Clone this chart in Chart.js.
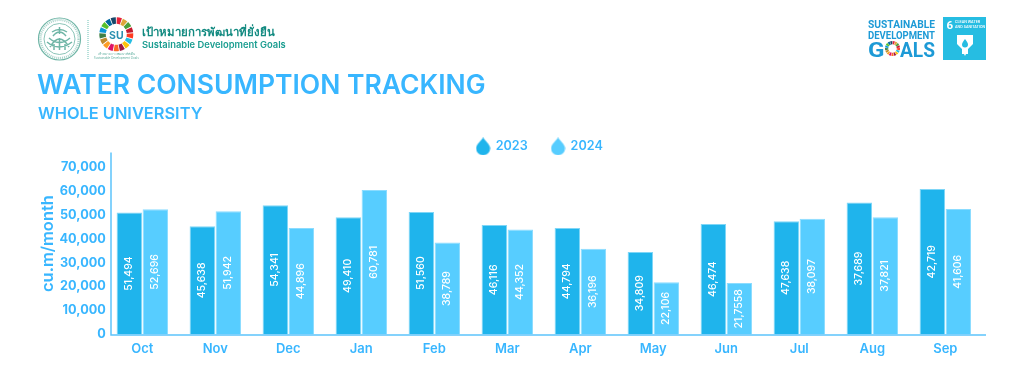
<!DOCTYPE html>
<html>
<head>
<meta charset="utf-8">
<title>Water consumption tracking</title>
<script src="https://cdn.jsdelivr.net/npm/chart.js@4"></script>
<style>
  html, body { margin: 0; padding: 0; background: #fff; overflow: hidden; }
  #page { position: relative; width: 1024px; height: 379px; font-family: Inter, sans-serif; }
  #chartBox { position: absolute; left: 0; top: 0; width: 1024px; height: 379px; }
  .txt { position: absolute; white-space: nowrap; line-height: 1; }
  #title { left: 37px; top: 71px; font-size: 26.5px; font-weight: 600; color: #38b6ff; }
  #subtitle { left: 38px; top: 105px; font-size: 16.4px; font-weight: 600; color: #38b6ff; }
  #thaiName { left: 142px; top: 26px; font-size: 11.4px; font-weight: 600; color: #128a80; font-family: "Noto Sans", sans-serif; }
  #engName { left: 142px; top: 40px; font-size: 9.4px; font-weight: 600; color: #1a9d90; }
  svg { position: absolute; left: 0; top: 0; }
</style>
</head>
<body>
<div id="page">
  <div id="chartBox"><canvas id="waterChart" width="1024" height="379"></canvas></div>
  <svg id="logos" width="1024" height="70" viewBox="0 0 1024 70">
    <g fill="none" stroke="#6fb5a6">
      <circle cx="59.5" cy="39" r="21" stroke-width="1.2"/>
      <circle cx="59.5" cy="39" r="19" stroke-width="2.2" stroke-dasharray="1 1" opacity="0.6"/>
      <circle cx="59.5" cy="39" r="15.5" stroke-width="0.8"/>
      <path d="M59.5 27 v7 M52 32 q7.5 -5 15 0 M49 38 q10.5 9 21 0 M50 47 q9.5 -16 19 0 M53 36 q6.5 -8 13 0 M47 42 q12 10 25 0 M54 44 v6 M65 44 v6 M59.5 38 v12" stroke-width="1.5"/>
    </g>
    <line x1="88" y1="20" x2="88" y2="60" stroke="#6fc2b5" stroke-width="1" stroke-dasharray="1 1"/>
    <g id="suWheel"></g>
    <text x="116.3" y="38.5" text-anchor="middle" font-family="Inter" font-weight="700" font-size="10.5" fill="#2a8fb0">SU</text>
    <text x="116.3" y="55" text-anchor="middle" font-family="Noto Sans" font-size="3" fill="#5fae9f">เป้าหมายการพัฒนาที่ยั่งยืน</text>
    <text x="116.3" y="59" text-anchor="middle" font-family="Inter" font-size="3" fill="#5fae9f">Sustainable Development Goals</text>

    <g font-family="Roboto" font-weight="700" fill="#1d9ad6">
      <text x="868" y="28" font-size="10.6" textLength="67" lengthAdjust="spacingAndGlyphs">SUSTAINABLE</text>
      <text x="868" y="38.5" font-size="10.6" textLength="67" lengthAdjust="spacingAndGlyphs">DEVELOPMENT</text>
      <text x="868" y="56.5" font-size="21" textLength="16.5" lengthAdjust="spacingAndGlyphs">G</text>
      <text x="900" y="56.5" font-size="21" textLength="35" lengthAdjust="spacingAndGlyphs">ALS</text>
    </g>
    <g id="goalsWheel"></g>
    <rect x="943" y="17" width="43" height="43" fill="#26bde2"/>
    <g fill="#fff">
      <text x="946.5" y="29" font-family="Roboto" font-weight="700" font-size="11.5">6</text>
      <text x="955" y="22.5" font-family="Roboto" font-weight="500" font-size="3.8">CLEAN WATER</text>
      <text x="955" y="27.5" font-family="Roboto" font-weight="500" font-size="3.8">AND SANITATION</text>
      <path d="M957 35 h16 v9 l-5 5 v5 h-2 l-1 2 -1 -2 h-2 v-5 l-5 -5 z"/>
      <path d="M965 39 q3 3.5 3 5.5 a3 3 0 0 1 -6 0 q0 -2 3 -5.5 z" fill="#26bde2"/>
    </g>
  </svg>
  <div id="title" class="txt">WATER CONSUMPTION TRACKING</div>
  <div id="subtitle" class="txt">WHOLE UNIVERSITY</div>
  <div id="thaiName" class="txt">เป้าหมายการพัฒนาที่ยั่งยืน</div>
  <div id="engName" class="txt">Sustainable Development Goals</div>
</div>

<script>
  var months = ['Oct', 'Nov', 'Dec', 'Jan', 'Feb', 'Mar', 'Apr', 'May', 'Jun', 'Jul', 'Aug', 'Sep'];
  var yearNames = ['2023', '2024'];
  var yTicks = [0, 10000, 20000, 30000, 40000, 50000, 60000, 70000];

  // bar heights as drawn in the picture
  var bars2023 = [51000, 45200, 54000, 49000, 51200, 45700, 44500, 34500, 46200, 47300, 55100, 60800];
  var bars2024 = [52300, 51500, 44500, 60400, 38400, 43900, 35800, 21800, 21500, 48400, 49000, 52400];

  // numbers printed on the bars, they do not always agree with the heights
  var printed2023 = ['51,494', '45,638', '54,341', '49,410', '51,560', '46,116', '44,794', '34,809', '46,474', '47,638', '37,689', '42,719'];
  var printed2024 = ['52,696', '51,942', '44,896', '60,781', '38,789', '44,352', '36,196', '22,106', '21,7558', '38,097', '37,821', '41,606'];

  var yMax = 76000;

  var dark = '#1fb4ec';
  var light = '#57cdff';
  var textBlue = '#38b6ff';
  var sdgColors = ['#e5243b', '#dda63a', '#4c9f38', '#c5192d', '#ff3a21', '#26bde2', '#fcc30b', '#a21942', '#fd6925',
                   '#dd1367', '#fd9d24', '#bf8b2e', '#3f7e44', '#0a97d9', '#56c02b', '#00689d', '#19486a'];

  // coloured ring used by both logos
  function drawWheel(id, cx, cy, r1, r2) {
    var g = document.getElementById(id);
    var html = '';
    var step = 2 * Math.PI / sdgColors.length;
    for (var i = 0; i < sdgColors.length; i++) {
      var a = -Math.PI / 2 + i * step + 0.03;
      var b = a + step - 0.06;
      html += '<path fill="' + sdgColors[i] + '" d="M' + (cx + r2 * Math.cos(a)) + ' ' + (cy + r2 * Math.sin(a)) +
        ' L' + (cx + r1 * Math.cos(a)) + ' ' + (cy + r1 * Math.sin(a)) +
        ' A' + r1 + ' ' + r1 + ' 0 0 1 ' + (cx + r1 * Math.cos(b)) + ' ' + (cy + r1 * Math.sin(b)) +
        ' L' + (cx + r2 * Math.cos(b)) + ' ' + (cy + r2 * Math.sin(b)) +
        ' A' + r2 + ' ' + r2 + ' 0 0 0 ' + (cx + r2 * Math.cos(a)) + ' ' + (cy + r2 * Math.sin(a)) + 'z"/>';
    }
    g.innerHTML = html;
  }
  drawWheel('suWheel', 116.3, 34.3, 17, 10.5);
  drawWheel('goalsWheel', 892.5, 48.5, 7.5, 4.2);

  // water drop used as the legend marker
  function makeDrop(color) {
    var c = document.createElement('canvas');
    c.width = 15;
    c.height = 18;
    var ctx = c.getContext('2d');
    ctx.fillStyle = color;
    ctx.beginPath();
    ctx.moveTo(7.5, 0);
    ctx.bezierCurveTo(9, 3.5, 14.5, 6.5, 14.5, 11);
    ctx.arc(7.5, 11, 7, 0, Math.PI);
    ctx.bezierCurveTo(0.5, 6.5, 6, 3.5, 7.5, 0);
    ctx.fill();
    return c;
  }

  var printedLabels = {
    id: 'printedLabels',
    afterDatasetsDraw: function(chart) {
      var ctx = chart.ctx;
      var sets = [printed2023, printed2024];
      sets.forEach(function(labels, d) {
        chart.getDatasetMeta(d).data.forEach(function(bar, i) {
          var p = bar.getCenterPoint();
          ctx.save();
          ctx.translate(p.x, p.y);
          ctx.rotate(-Math.PI / 2);
          ctx.textAlign = 'center';
          ctx.textBaseline = 'middle';
          ctx.font = '500 10.5px Inter';
          ctx.fillStyle = '#fff';
          ctx.fillText(labels[i], 0, 0);
          ctx.restore();
        });
      });
    }
  };

  // the reference axis lines sit a few px right of the first band
  var axisLines = {
    id: 'axisLines',
    afterLayout: function(chart) {
      chart.legend.left -= 4;
      chart.legend.right -= 4;
      chart.legend.top += 10;
      chart.legend.bottom += 10;
    },
    afterDatasetsDraw: function(chart) {
      var ctx = chart.ctx;
      var a = chart.chartArea;
      ctx.save();
      ctx.strokeStyle = '#5cc4fb';
      ctx.lineWidth = 1.5;
      ctx.beginPath();
      ctx.moveTo(a.left + 5.2, a.top);
      ctx.lineTo(a.left + 5.2, a.bottom + 0.5);
      ctx.lineTo(a.right + 4.2, a.bottom + 0.5);
      ctx.stroke();
      ctx.restore();
    }
  };

  new Chart(document.getElementById('waterChart'), {
    type: 'bar',
    plugins: [printedLabels, axisLines],
    data: {
      labels: months,
      datasets: [
        { label: yearNames[0], data: bars2023, backgroundColor: dark, borderColor: '#7fd6f7', borderWidth: 1, pointStyle: makeDrop(dark) },
        { label: yearNames[1], data: bars2024, backgroundColor: light, borderColor: '#8bdcff', borderWidth: 1, pointStyle: makeDrop(light) }
      ]
    },
    options: {
      responsive: false,
      animation: false,
      layout: { padding: { top: 106, right: 42.2, bottom: 22.5, left: 0 } },
      datasets: { bar: { categoryPercentage: 0.712, barPercentage: 0.977 } },
      plugins: {
        tooltip: { enabled: false },
        legend: {
          position: 'top',
          fullSize: false,
          labels: {
            usePointStyle: true,
            color: textBlue,
            font: { family: 'Inter', size: 12.6, weight: '600' },
            padding: 24
          }
        }
      },
      scales: {
        x: {
          grid: { display: false, drawTicks: false },
          border: { display: false },
          afterFit: function(scale) { scale.height = 22; },
          ticks: { color: textBlue, font: { family: 'Inter', size: 13, weight: '600' }, padding: 7, maxRotation: 0 }
        },
        y: {
          min: 0,
          max: yMax,
          grid: { display: false, drawTicks: false },
          border: { display: false },
          afterFit: function(scale) { scale.width = 105.8; },
          afterBuildTicks: function(scale) {
            scale.ticks = yTicks.map(function(v) { return { value: v }; });
          },
          ticks: {
            autoSkip: false,
            color: textBlue,
            padding: 0,
            font: { family: 'Inter', size: 12.7, weight: '700' },
            callback: function(v) { return v.toLocaleString('en-US'); }
          },
          title: {
            display: true,
            text: 'cu.m/month',
            color: textBlue,
            font: { family: 'Inter', size: 16.5, weight: '600' },
            padding: { top: 38, bottom: 0 }
          }
        }
      }
    }
  });
</script>
</body>
</html>
